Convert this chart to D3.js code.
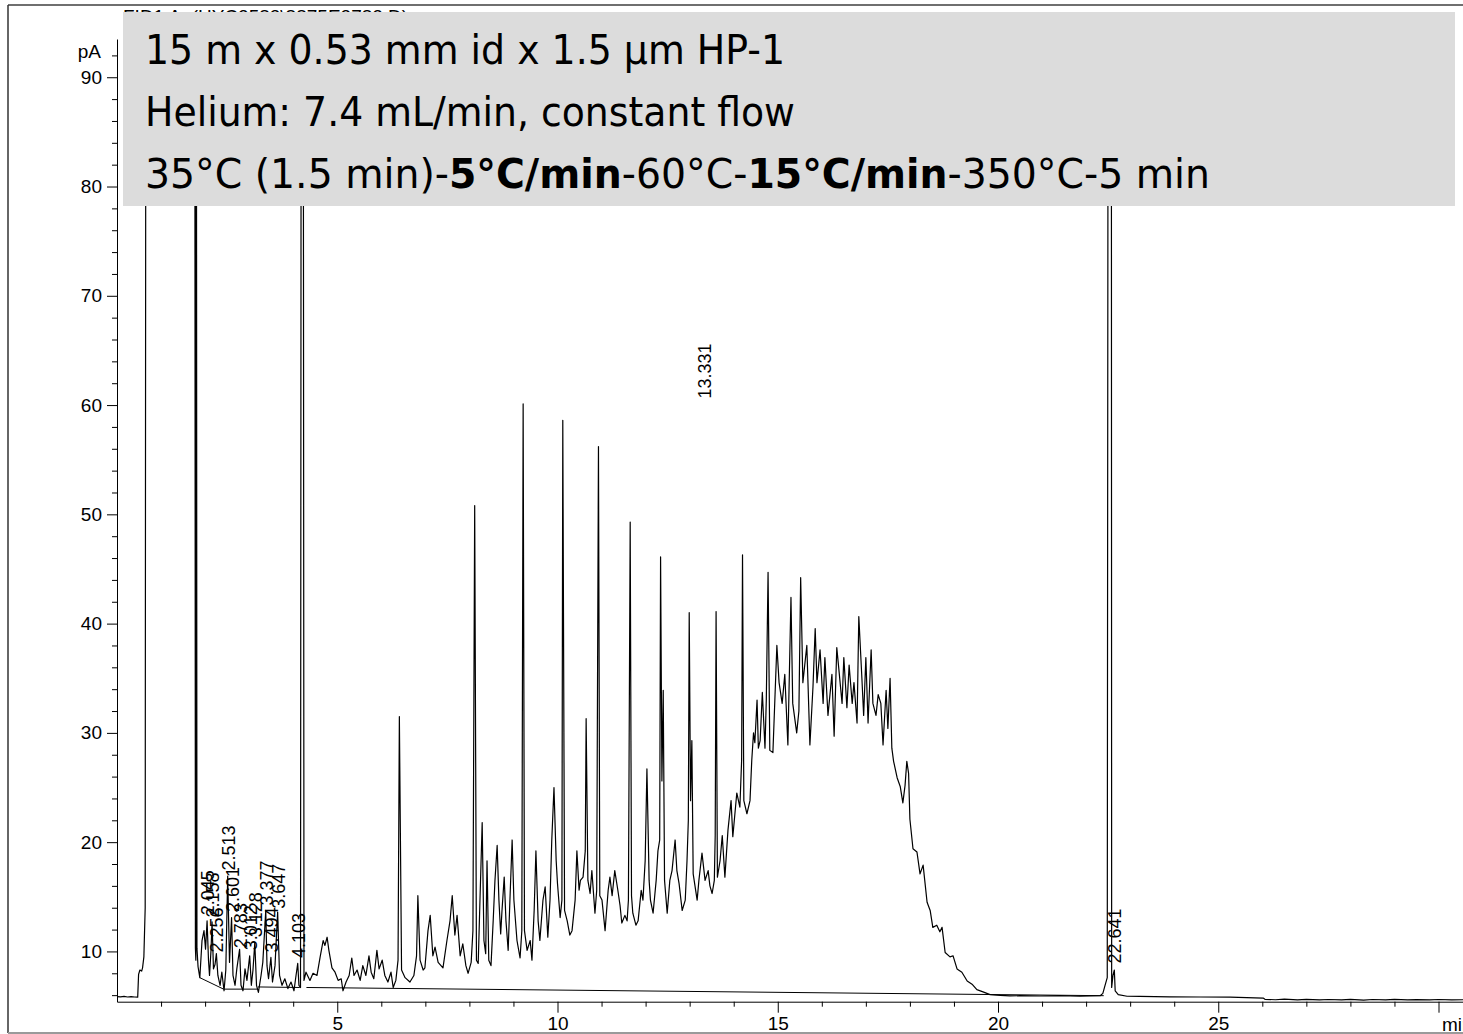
<!DOCTYPE html>
<html><head><meta charset="utf-8">
<script src="https://cdn.jsdelivr.net/npm/d3@7"></script>
<style>body{margin:0;background:#fff}svg{display:block}</style>
</head><body>
<svg id="c" width="1463" height="1034"></svg>
<script>
// ---- DATA (minutes, pA) ----
const trace = [
[0.00,5.86],[0.08,5.84],[0.16,5.88],[0.24,5.83],[0.32,5.87],[0.40,5.83],[0.47,5.82],[0.49,7.9],[0.52,8.3],[0.56,8.2],[0.58,8.5],[0.61,9.5],[0.64,14.0],[0.66,130],[1.0,180],[1.5,170],[1.76,140],[1.78,10.3],[1.79,9.2],[1.80,120],[1.815,10.3],[1.84,8.6],[1.88,7.6],
[1.93,11.0],[1.975,11.9],[2.01,10.2],[2.045,12.8],[2.077,9.2],[2.10,7.8],[2.134,10.1],[2.158,12.7],[2.19,8.4],[2.225,8.8],[2.256,9.8],[2.29,7.8],[2.34,6.9],[2.38,8.1],[2.43,6.4],[2.47,8.3],[2.513,16.9],[2.554,9.0],[2.601,13.1],[2.633,7.8],[2.68,6.9],[2.72,8.4],[2.783,10.2],[2.815,6.9],[2.86,6.4],[2.906,8.4],[2.95,7.35],[3.012,9.6],[3.05,6.9],[3.087,8.3],[3.128,10.8],[3.167,6.9],[3.21,6.25],[3.27,7.8],[3.31,9.0],[3.377,13.75],[3.405,8.7],[3.44,7.5],[3.494,9.45],[3.53,7.2],[3.587,8.7],[3.647,13.6],[3.69,7.8],[3.746,6.9],[3.81,7.5],[3.88,6.6],[3.95,7.2],[4.018,6.4],[4.064,7.8],[4.103,8.9],[4.13,6.9],[4.166,6.7],[4.19,150],[4.22,150],[4.245,7.35],
[4.29,8.1],[4.38,7.35],[4.45,8.0],[4.54,7.8],[4.61,9.45],[4.68,11.0],[4.72,10.55],[4.77,11.3],[4.81,10.1],[4.88,8.5],[4.95,8.1],[5.02,7.35],[5.09,7.5],[5.13,6.4],[5.20,7.2],[5.27,7.8],[5.33,9.4],[5.38,7.8],[5.45,8.3],[5.52,7.35],[5.58,8.7],[5.65,7.8],[5.72,9.6],[5.77,8.1],[5.83,7.5],[5.90,10.1],[5.95,8.4],[6.02,9.2],[6.08,7.8],[6.15,7.2],[6.22,8.1],[6.27,6.7],[6.33,7.35],[6.38,9.2],[6.41,31.5],[6.46,8.3],
[6.54,7.6],[6.65,7.2],[6.74,7.8],[6.80,9.6],[6.83,15.1],[6.88,9.2],[6.95,8.3],[6.99,8.5],[7.06,11.9],[7.11,13.3],[7.17,9.6],[7.22,10.4],[7.29,9.0],[7.40,8.5],[7.49,11.0],[7.56,12.8],[7.61,15.1],[7.67,11.5],[7.72,13.3],[7.79,9.6],[7.85,10.7],[7.92,8.7],[7.97,8.0],[8.04,9.0],[8.08,11.9],[8.12,50.8],[8.16,9.2],[8.20,8.9],[8.24,14.7],[8.29,21.8],[8.33,11.0],[8.37,9.8],[8.40,18.3],[8.44,9.2],[8.49,8.7],[8.54,12.8],[8.58,16.5],[8.63,19.7],[8.67,14.7],[8.71,11.6],[8.74,13.75],[8.79,16.8],[8.83,12.8],[8.88,10.1],[8.92,14.7],[8.97,20.2],[9.01,14.7],[9.08,11.0],[9.15,9.4],[9.19,11.9],[9.22,60.1],[9.25,11.9],[9.31,10.1],[9.38,11.0],[9.42,9.2],[9.47,13.75],[9.51,19.2],[9.56,12.8],[9.60,11.0],[9.67,14.7],[9.72,15.9],[9.78,11.3],[9.83,14.7],[9.87,20.2],[9.92,25.0],[9.97,18.3],[10.00,16.2],[10.06,13.1],[10.10,14.7],[10.12,58.6],[10.16,13.75],[10.22,12.8],[10.28,11.5],[10.33,11.9],[10.40,14.7],[10.44,19.2],[10.49,15.6],[10.52,16.5],[10.58,16.8],[10.63,19.2],[10.65,31.3],[10.69,16.5],[10.74,15.3],[10.78,17.4],[10.85,13.5],[10.89,15.6],[10.93,56.2],[10.96,15.1],[11.01,14.7],[11.08,11.9],[11.15,15.6],[11.19,16.8],[11.24,15.1],[11.30,17.4],[11.37,15.6],[11.42,14.2],[11.46,12.6],[11.53,13.3],[11.58,12.8],[11.61,14.7],[11.65,49.3],[11.68,15.1],[11.71,13.5],[11.78,12.4],[11.83,12.8],[11.90,15.6],[11.94,14.7],[11.99,18.3],[12.03,26.7],[12.08,16.5],[12.11,14.7],[12.17,13.5],[12.24,16.5],[12.28,19.2],[12.32,20.2],[12.34,46.1],[12.37,25.6],[12.40,33.9],[12.43,16.5],[12.49,13.5],[12.55,16.5],[12.60,17.4],[12.67,20.2],[12.71,17.4],[12.76,16.2],[12.83,13.75],[12.90,14.7],[12.94,18.3],[12.97,22.0],[12.99,41.0],[13.02,23.8],[13.05,29.3],[13.08,17.1],[13.17,14.7],[13.21,16.5],[13.28,19.0],[13.35,16.5],[13.42,17.4],[13.46,16.0],[13.51,15.3],[13.56,16.5],[13.58,20.6],[13.60,41.1],[13.63,16.8],[13.69,18.3],[13.74,20.6],[13.80,16.8],[13.87,21.1],[13.94,23.8],[13.98,20.5],[14.07,24.5],[14.14,23.2],[14.18,27.5],[14.20,46.3],[14.23,23.8],[14.30,22.6],[14.37,23.8],[14.41,27.5],[14.45,30.0],[14.48,29.1],[14.53,33.0],[14.56,28.6],[14.60,29.3],[14.65,33.7],[14.71,28.6],[14.74,33.0],[14.78,44.7],[14.82,28.4],[14.89,28.2],[14.98,38.0],[15.03,34.6],[15.10,32.7],[15.16,35.35],[15.23,28.9],[15.30,42.4],[15.34,32.7],[15.43,30.0],[15.48,32.0],[15.52,44.2],[15.57,34.6],[15.66,38.0],[15.73,28.9],[15.80,34.25],[15.85,39.55],[15.89,34.6],[15.96,37.6],[16.03,32.7],[16.07,36.9],[16.14,31.6],[16.23,35.35],[16.28,29.7],[16.34,37.8],[16.39,35.7],[16.46,32.7],[16.50,36.9],[16.57,32.3],[16.62,36.2],[16.69,32.7],[16.73,34.6],[16.80,30.9],[16.84,40.65],[16.91,35.0],[16.95,31.6],[17.00,36.9],[17.05,30.9],[17.12,37.6],[17.16,32.7],[17.23,31.6],[17.28,33.5],[17.34,32.7],[17.39,28.9],[17.46,33.9],[17.50,30.4],[17.55,35.0],[17.59,28.6],[17.63,27.4],[17.71,25.9],[17.78,25.1],[17.84,23.6],[17.89,25.2],[17.93,27.4],[17.97,26.3],[18.00,22.1],[18.07,19.4],[18.16,19.1],[18.23,17.1],[18.30,17.9],[18.39,14.5],[18.46,13.75],[18.52,12.2],[18.61,12.4],[18.68,11.8],[18.73,12.2],[18.80,9.9],[18.91,9.5],[18.98,9.6],[19.07,8.4],[19.18,8.1],[19.30,7.3],[19.41,7.0],[19.52,6.5],[19.66,6.3],[19.82,6.05],[20.05,5.97],[20.27,5.93],[20.50,5.95],[20.95,5.92],[21.41,5.95],[21.86,5.9],[22.32,5.95],[22.38,6.16],[22.43,6.9],[22.48,7.6],[22.51,150],[22.57,150],[22.58,6.7],[22.61,7.8],[22.641,8.3],[22.66,6.4],[22.73,6.05],[22.93,5.9],[23.22,5.88],[23.90,5.85],[24.59,5.83],[25.27,5.82],[26.02,5.73],[26.06,5.62],[26.3,5.58],[26.5,5.63],[26.8,5.57],[27.0,5.62],[27.3,5.56],[27.5,5.6],[27.8,5.57],[28.0,5.61],[28.3,5.55],[28.5,5.6],[28.8,5.56],[29.0,5.61],[29.3,5.56],[29.5,5.59],[29.8,5.56],[30.0,5.6],[30.3,5.57],[30.56,5.58]
];
const integrationBaselines = [
[1.88,7.6,2.42,6.55],[2.42,6.55,3.20,6.55],[3.20,6.75,4.15,6.7],[4.30,6.7,22.40,5.95]
];
const peakLabelText = ["2.045","2.158","2.256","2.513","2.601","2.783","3.012","3.128","3.377","3.494","3.647","4.103","13.331","22.641"];
const peakLabelTime = [2.045,2.158,2.256,2.513,2.601,2.783,3.012,3.128,3.377,3.494,3.647,4.103,13.331,22.641];
const peakLabelBase = [13.3,13.1,9.9,17.4,13.6,10.3,10.1,11.3,14.2,9.9,13.9,9.4,60.6,8.9];
const yMajorTicks = [10,20,30,40,50,60,70,80,90];
const xMajorTicks = [5,10,15,20,25,30];
const xTickLabels = ["5","10","15","20","25",""];
const infoLines = ["15 m x 0.53 mm id x 1.5 µm HP-1","Helium: 7.4 mL/min, constant flow"];
const programParts = [["35°C (1.5 min)-",false],["5°C/min",true],["-60°C-",false],["15°C/min",true],["-350°C-5 min",false]];
const signalTitle = "FID1 A, (HYC2583\\8875E3782.D)";

// ---- CHART ----
const svg = d3.select("#c");
const x = d3.scaleLinear().domain([0, 30.556]).range([117, 1463]);
const y = d3.scaleLinear().domain([5.4, 93.5]).range([1001.7, 39]);
const font = "'Liberation Sans', Arial, sans-serif";
const axisFont = 19;

// frame
svg.append("line").attr("x1",8).attr("x2",1463).attr("y1",5).attr("y2",5).attr("stroke","#6f6f6f").attr("stroke-width",2);
svg.append("line").attr("x1",8).attr("x2",8).attr("y1",5).attr("y2",1033).attr("stroke","#333").attr("stroke-width",1.5);
svg.append("line").attr("x1",8).attr("x2",1463).attr("y1",1033).attr("y2",1033).attr("stroke","#9a9a9a").attr("stroke-width",2);

// signal title (mostly hidden behind box)
svg.append("text").attr("x",123).attr("y",23).attr("font-family",font).attr("font-size",19).text(signalTitle);

svg.append("defs").append("clipPath").attr("id","pc").append("rect")
  .attr("x",117).attr("y",39).attr("width",1346).attr("height",964);

// axes
svg.append("g").attr("transform","translate(117,0)")
  .call(d3.axisLeft(y).tickValues(yMajorTicks).tickSize(10).tickSizeOuter(0).tickPadding(5));
svg.append("g").attr("transform","translate(117,0)")
  .call(d3.axisLeft(y).tickValues(d3.range(6,93,2).filter(v=>v%10!==0)).tickSize(5).tickSizeOuter(0).tickFormat(""))
  .select(".domain").remove();
svg.append("g").attr("transform","translate(0,1001.7)")
  .call(d3.axisBottom(x).tickValues(xMajorTicks).tickSize(11).tickSizeOuter(0).tickPadding(4)
    .tickFormat((d,i)=>xTickLabels[i]));
svg.append("g").attr("transform","translate(0,1001.7)")
  .call(d3.axisBottom(x).tickValues(d3.range(1,31,1).filter(v=>v%5!==0)).tickSize(5).tickSizeOuter(0).tickFormat(""))
  .select(".domain").remove();
svg.selectAll(".tick text").attr("font-family",font).attr("font-size",axisFont).attr("fill","#000");
svg.selectAll(".domain, .tick line").attr("stroke","#000");
svg.append("text").attr("x",101).attr("y",58).attr("text-anchor","end")
  .attr("font-family",font).attr("font-size",axisFont).text("pA");
svg.append("text").attr("x",1442).attr("y",1031).attr("font-family",font).attr("font-size",axisFont).text("min");

// baselines and trace
const g = svg.append("g").attr("clip-path","url(#pc)");
g.selectAll("line.bl").data(integrationBaselines).join("line").attr("class","bl")
  .attr("x1",d=>x(d[0])).attr("y1",d=>y(d[1])).attr("x2",d=>x(d[2])).attr("y2",d=>y(d[3]))
  .attr("stroke","#000").attr("stroke-width",1);
g.append("path").datum(trace)
  .attr("d", d3.line().x(d=>x(d[0])).y(d=>y(d[1])))
  .attr("fill","none").attr("stroke","#000").attr("stroke-width",1.2).attr("stroke-linejoin","round");

// peak labels
svg.selectAll("text.pl").data(peakLabelText).join("text").attr("class","pl")
  .attr("transform",(d,i)=>`translate(${x(peakLabelTime[i])+7},${y(peakLabelBase[i])}) rotate(-90)`)
  .attr("font-family",font).attr("font-size",18).text(d=>d);

// info box
svg.append("rect").attr("x",123).attr("y",12).attr("width",1332).attr("height",194).attr("fill","#dcdcdc");
const boxFont = "'DejaVu Sans', Verdana, sans-serif";
const lineWidths = [640, 650, 1065];
infoLines.forEach((t,i)=>{
  svg.append("text").attr("x",145).attr("y",64+i*62).attr("font-family",boxFont).attr("font-size",41)
    .attr("textLength",lineWidths[i]).attr("lengthAdjust","spacingAndGlyphs").text(t);
});
const t3 = svg.append("text").attr("x",145).attr("y",188).attr("font-family",boxFont).attr("font-size",41)
  .attr("textLength",lineWidths[2]).attr("lengthAdjust","spacingAndGlyphs");
programParts.forEach(p=>t3.append("tspan").attr("font-weight",p[1]?"bold":"normal").text(p[0]));
</script>
</body></html>
